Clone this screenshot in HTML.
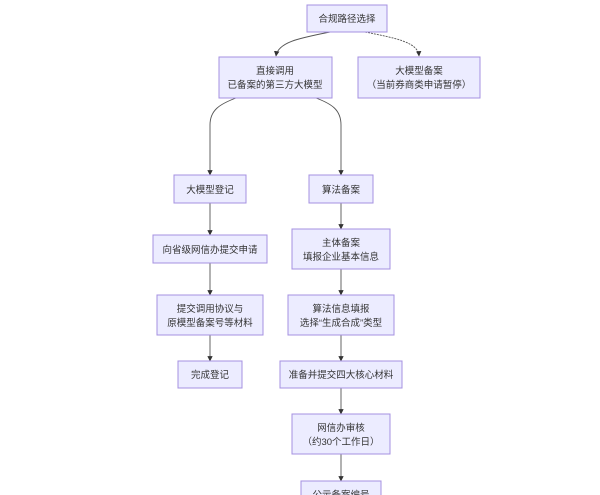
<!DOCTYPE html>
<html><head><meta charset="utf-8"><style>
html,body{margin:0;padding:0;background:#fff;}
svg{display:block;}
text{font-family:"Liberation Sans","Noto Sans CJK SC",sans-serif;font-size:9.5px;fill:#333;text-anchor:middle;}
.b{fill:#ECECFF;stroke:#A590E0;stroke-width:1;}
.e{fill:none;stroke:#555;stroke-width:0.9;}
</style></head><body>
<svg width="600" height="495" viewBox="0 0 600 495" xmlns="http://www.w3.org/2000/svg">
<defs><marker id="a" viewBox="0 0 10 10" refX="9" refY="5" markerWidth="6" markerHeight="6" orient="auto"><path d="M0,0L10,5L0,10z" fill="#333"/></marker></defs>
<path class="e" d="M330,32 C300,38 278,42 276,56" marker-end="url(#a)"/>
<path class="e" d="M365,32 C395,38 418,42 419,56" marker-end="url(#a)" stroke-dasharray="2,1"/>
<path class="e" d="M236,98 C220,104 210,110 210,125 L210,175" marker-end="url(#a)"/>
<path class="e" d="M316,98 C332,104 341,110 341,125 L341,175" marker-end="url(#a)"/>
<path class="e" d="M210,203 L210,235" marker-end="url(#a)"/>
<path class="e" d="M341,203 L341,229" marker-end="url(#a)"/>
<path class="e" d="M210,263 L210,295" marker-end="url(#a)"/>
<path class="e" d="M341,269 L341,295" marker-end="url(#a)"/>
<path class="e" d="M210,335 L210,361" marker-end="url(#a)"/>
<path class="e" d="M341,335 L341,361" marker-end="url(#a)"/>
<path class="e" d="M341,388 L341,414" marker-end="url(#a)"/>
<path class="e" d="M341,454 L341,481" marker-end="url(#a)"/>
<rect class="b" x="307" y="5" width="80" height="27"/><text x="347" y="22">合规路径选择</text>
<rect class="b" x="219" y="57" width="113" height="41"/><text x="275" y="74">直接调用</text><text x="275" y="88">已备案的第三方大模型</text>
<rect class="b" x="358" y="57" width="122" height="41"/><text x="419" y="74">大模型备案</text><text x="419" y="88">（当前券商类申请暂停）</text>
<rect class="b" x="174" y="175" width="72" height="28"/><text x="210" y="193">大模型登记</text>
<rect class="b" x="309" y="175" width="64" height="28"/><text x="341" y="193">算法备案</text>
<rect class="b" x="153" y="235" width="114" height="28"/><text x="210" y="253">向省级网信办提交申请</text>
<rect class="b" x="292" y="229" width="98" height="40"/><text x="341" y="246">主体备案</text><text x="341" y="260">填报企业基本信息</text>
<rect class="b" x="157" y="295" width="106" height="40"/><text x="210" y="312">提交调用协议与</text><text x="210" y="326">原模型备案号等材料</text>
<rect class="b" x="288" y="295" width="106" height="40"/><text x="341" y="312">算法信息填报</text><text x="341" y="326">选择“生成合成”类型</text>
<rect class="b" x="178" y="361" width="64" height="27"/><text x="210" y="378">完成登记</text>
<rect class="b" x="280" y="361" width="122" height="27"/><text x="341" y="378">准备并提交四大核心材料</text>
<rect class="b" x="292" y="414" width="98" height="40"/><text x="341" y="431">网信办审核</text><text x="341" y="445">（约30个工作日）</text>
<rect class="b" x="301" y="481" width="80" height="28"/><text x="341" y="498">公示备案编号</text>
</svg>
</body></html>
